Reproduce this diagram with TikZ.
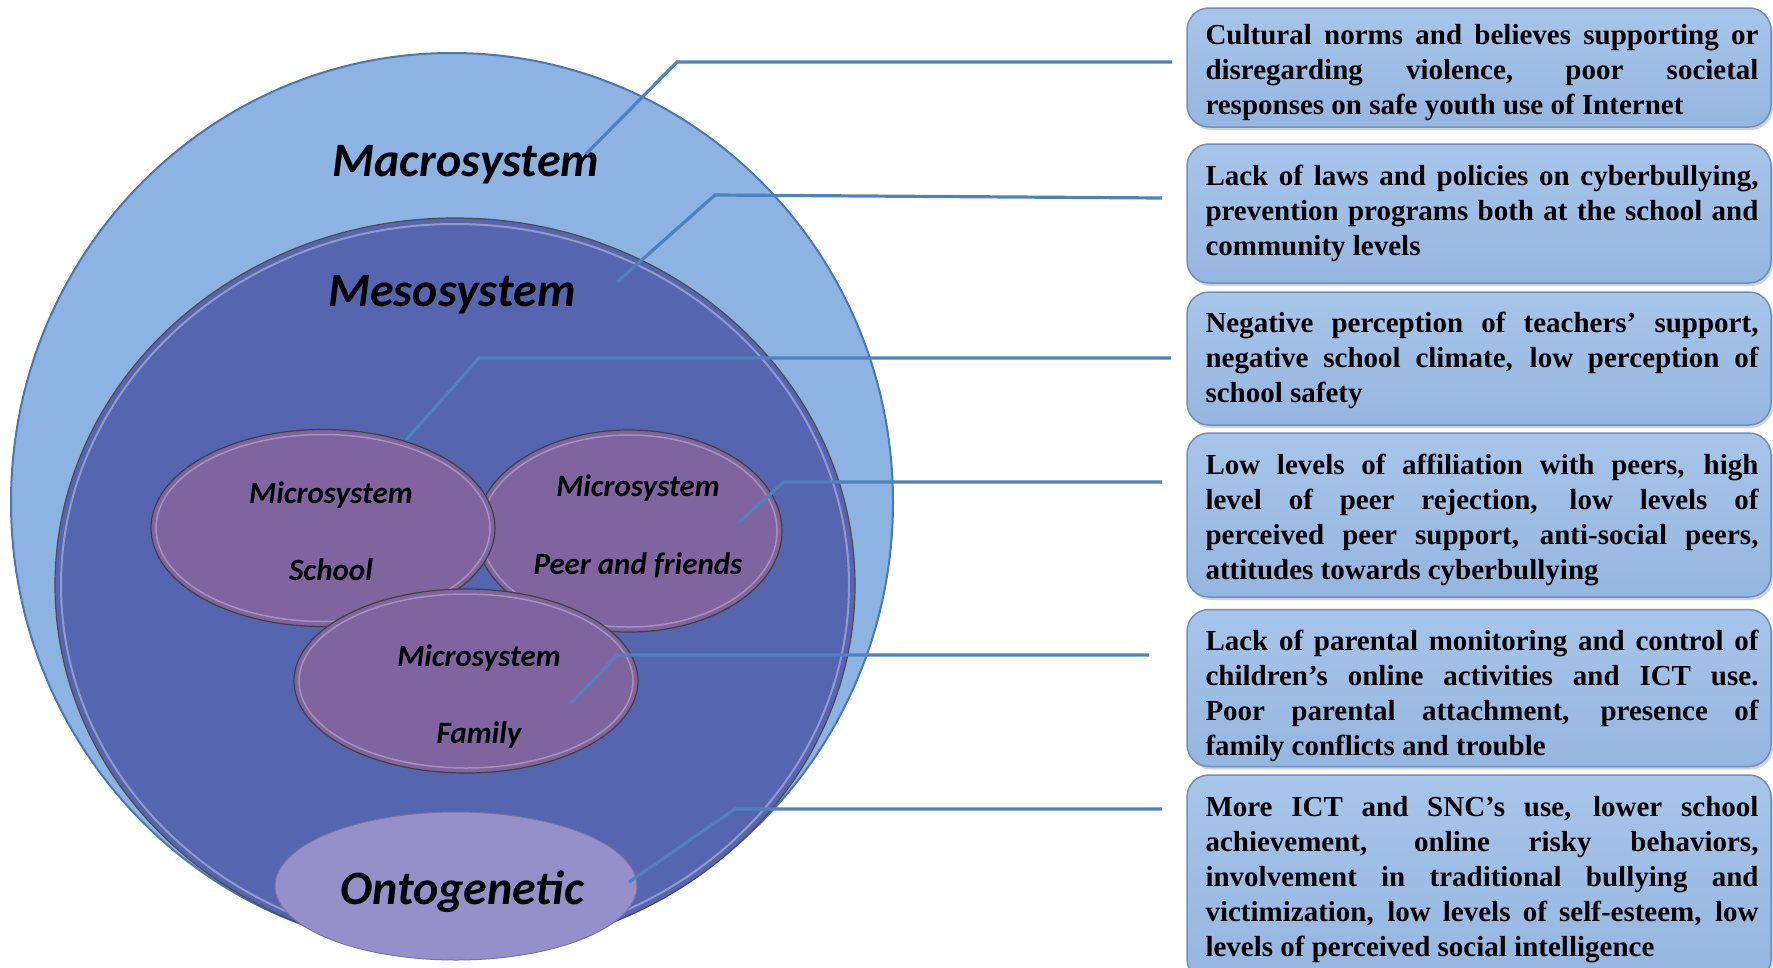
\documentclass[tikz,border=0pt]{standalone}
\usepackage{fontspec}
\setmainfont{Liberation Serif}
\newfontfamily\carlito{Carlito}
\usetikzlibrary{shapes.geometric,shadows}
\definecolor{macrofill}{HTML}{8DB3E2}
\definecolor{macroedge}{HTML}{4A78B0}
\definecolor{mesofill}{HTML}{5665B0}
\definecolor{microfill}{HTML}{8064A0}
\definecolor{ontofill}{HTML}{978FC9}
\definecolor{boxtop}{HTML}{A8C5EA}
\definecolor{boxbot}{HTML}{95B6E0}
\definecolor{boxedge}{HTML}{6F8FBF}
\definecolor{linkcol}{HTML}{4F81BD}
\begin{document}
\begin{tikzpicture}[x=1pt,y=-1pt,
  sys/.style={ellipse, inner sep=0pt},
  biglbl/.style={font=\carlito\bfseries\itshape\fontsize{48}{52}\selectfont, inner sep=0pt},
  microlbl/.style={font=\carlito\bfseries\itshape\fontsize{31}{35}\selectfont, inner sep=0pt},
  infobox/.style={draw=boxedge, line width=1.5pt, top color=boxtop, bottom color=boxbot,
    rounded corners=22pt, minimum width=584pt, inner sep=0pt,
    drop shadow={opacity=0.35, shadow xshift=2pt, shadow yshift=-3pt}},
  boxtext/.style={text width=553pt, align=justify, inner sep=0pt,
    font=\bfseries\fontsize{29}{35}\selectfont},
  link/.style={draw=linkcol, line width=3.2pt}
]
\useasboundingbox (0,0) rectangle (1773,967);
\tolerance=10000 \hbadness=10000 \hyphenpenalty=10000
% systems
\node[sys, minimum width=882pt, minimum height=898pt, fill=macrofill, draw=macroedge, line width=2pt] (macro) at (452,502) {};
\node[sys, minimum width=800pt, minimum height=734pt, fill=mesofill, draw=black!70, line width=1.2pt] (meso) at (455,585) {};
\draw[white, opacity=0.35, line width=2pt] (455,585) ellipse [x radius=394, y radius=361];
\node[sys, minimum width=306pt, minimum height=202pt, fill=microfill, draw=black!75, line width=1.2pt] (peer) at (629,531) {};
\draw[white, opacity=0.3, line width=1.5pt] (629,531) ellipse [x radius=148, y radius=96];
\node[sys, minimum width=344pt, minimum height=197pt, fill=microfill, draw=black!75, line width=1.2pt] (school) at (323,528) {};
\draw[white, opacity=0.3, line width=1.5pt] (323,528) ellipse [x radius=167, y radius=93.5];
\node[sys, minimum width=344pt, minimum height=184pt, fill=microfill, draw=black!75, line width=1.2pt] (family) at (466,681) {};
\draw[white, opacity=0.3, line width=1.5pt] (466,681) ellipse [x radius=167, y radius=87];
\node[sys, minimum width=362pt, minimum height=148pt, fill=ontofill, draw=ontofill!80!black, line width=1pt] (onto) at (456,886) {};
% labels
\node[biglbl] (macrolbl) at (466,165) {Macrosystem};
\node[biglbl] (mesolbl) at (452,295) {Mesosystem};
\node[microlbl] (schoolA) at (331,495) {Microsystem};
\node[microlbl] (schoolB) at (331,570) {School};
\node[microlbl] (peerA) at (638,488) {Microsystem};
\node[microlbl] (peerB) at (638,565) {Peer and friends};
\node[microlbl] (familyA) at (479,658) {Microsystem};
\node[microlbl] (familyB) at (479,735) {Family};
\node[biglbl] (ontolbl) at (462,892) {Ontogenetic};
% boxes
\node[infobox, minimum height=119pt] (box1) at (1479,67.5) {};
\node[infobox, minimum height=139pt] (box2) at (1479,213.5) {};
\node[infobox, minimum height=133pt] (box3) at (1479,358.5) {};
\node[infobox, minimum height=164pt] (box4) at (1479,515) {};
\node[infobox, minimum height=157pt] (box5) at (1479,688) {};
\node[infobox, minimum height=206pt] (box6) at (1479,878) {};
\node[boxtext] (t1) at ([xshift=3pt,yshift=-5pt]box1.center) {Cultural norms and believes supporting or\linebreak disregarding violence, poor societal\linebreak responses on safe youth use of Internet};
\node[boxtext] (t2) at ([xshift=3pt]box2.center) {Lack of laws and policies on cyberbullying,\linebreak prevention programs both at the school and\linebreak community levels};
\node[boxtext] (t3) at ([xshift=3pt,yshift=-2pt]box3.center) {Negative perception of teachers’ support,\linebreak negative school climate, low perception of\linebreak school safety};
\node[boxtext] (t4) at ([xshift=3pt,yshift=-5pt]box4.center) {Low levels of affiliation with peers, high\linebreak level of peer rejection, low levels of\linebreak perceived peer support, anti-social peers,\linebreak attitudes towards cyberbullying};
\node[boxtext] (t5) at ([xshift=3pt,yshift=-8pt]box5.center) {Lack of parental monitoring and control of\linebreak children’s online activities and ICT use.\linebreak Poor parental attachment, presence of\linebreak family conflicts and trouble};
\node[boxtext] (t6) at ([xshift=3pt,yshift=-2pt]box6.center) {More ICT and SNC’s use, lower school\linebreak achievement, online risky behaviors,\linebreak involvement in traditional bullying and\linebreak victimization, low levels of self-esteem, low\linebreak levels of perceived social intelligence};
% connectors
\coordinate (c1a) at (586,154); \coordinate (c1b) at (677,62); \coordinate (c1c) at (1172,62);
\coordinate (c2a) at (617,282); \coordinate (c2b) at (715,195); \coordinate (c2c) at (1162,198);
\coordinate (c3a) at (406,440); \coordinate (c3b) at (479,358); \coordinate (c3c) at (1171,358);
\coordinate (c4a) at (738,523); \coordinate (c4b) at (784,482); \coordinate (c4c) at (1162,482);
\coordinate (c5a) at (571,703); \coordinate (c5b) at (617,655); \coordinate (c5c) at (1149,655);
\coordinate (c6a) at (629,882); \coordinate (c6b) at (735,809); \coordinate (c6c) at (1162,809);
\draw[link] (c1a) -- (c1b) -- (c1c);
\draw[link] (c2a) -- (c2b) -- (c2c);
\draw[link] (c3a) -- (c3b) -- (c3c);
\draw[link] (c4a) -- (c4b) -- (c4c);
\draw[link] (c5a) -- (c5b) -- (c5c);
\draw[link] (c6a) -- (c6b) -- (c6c);
\end{tikzpicture}
\end{document}
